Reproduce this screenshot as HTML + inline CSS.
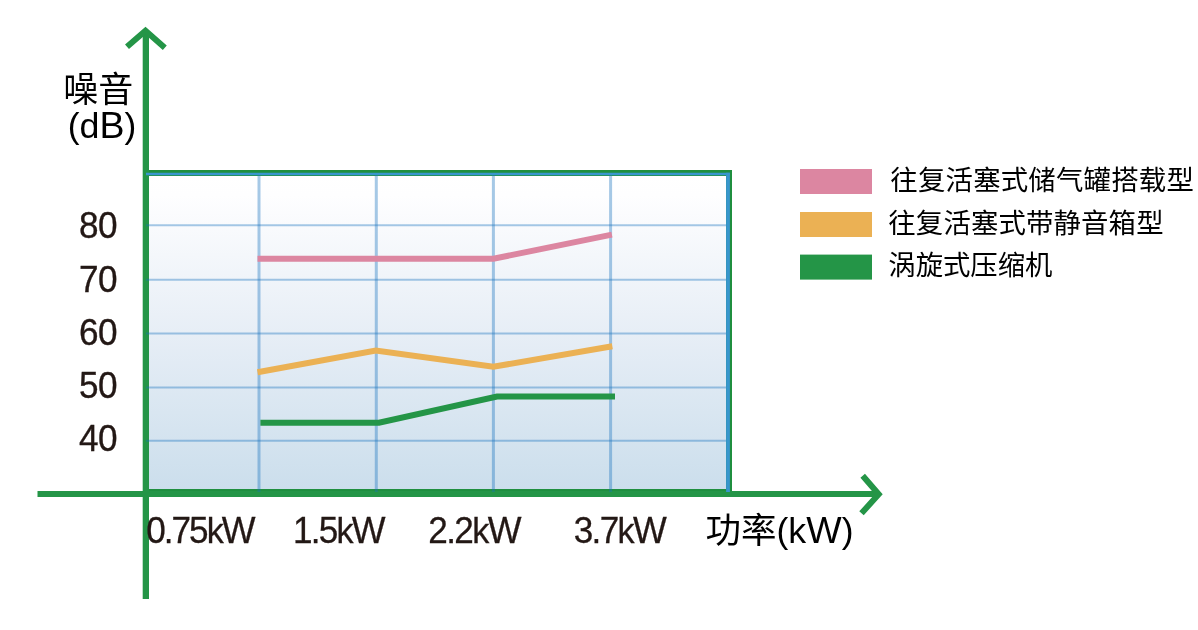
<!DOCTYPE html>
<html lang="zh-CN">
<head>
<meta charset="utf-8">
<title>噪音 / 功率</title>
<style>
  html, body { margin: 0; padding: 0; background: #ffffff; }
  body { width: 1198px; height: 630px; overflow: hidden; position: relative; }
  svg { position: absolute; left: 0; top: 0; display: block; }
  text { font-family: "Liberation Sans", "Noto Sans CJK SC", sans-serif; }
  .num { font-size: 36.8px; fill: #231815; letter-spacing: -2.1px; stroke: #231815; stroke-width: 0.3px; }
  .ynum { font-size: 36.8px; fill: #231815; letter-spacing: -0.7px; stroke: #231815; stroke-width: 0.35px; }
  .k { font-size: 35.8px; }
  .W { font-size: 37.5px; }
  .p { font-size: 35.4px; }
  .lab { font-size: 34px; fill: #000000; }
  .leg { font-size: 27.4px; fill: #000000; }
</style>
</head>
<body>
<svg width="1198" height="630" viewBox="0 0 1198 630">
  <defs>
    <linearGradient id="bg" x1="0" y1="0" x2="0" y2="1">
      <stop offset="0" stop-color="#ffffff"/>
      <stop offset="0.07" stop-color="#fefeff"/>
      <stop offset="0.5" stop-color="#e7eef6"/>
      <stop offset="1" stop-color="#cbdeec"/>
    </linearGradient>
  </defs>

  <!-- plot background -->
  <rect x="146" y="173" width="583" height="319" fill="url(#bg)"/>

  <!-- box frame (green) -->
  <path d="M146 173 H729 V492 H146" fill="none" stroke="#1f8f3f" stroke-width="6" stroke-linejoin="miter"/>
  <!-- axes -->
  <g fill="none" stroke="#249547" stroke-width="6">
    <line x1="145.85" y1="30" x2="145.85" y2="599" stroke-width="6.3"/>
    <line x1="37.5" y1="494" x2="879" y2="494"/>
    <polyline points="127,46.8 145.5,30.8 164.8,47.7" stroke-linejoin="miter"/>
    <polyline points="862.7,475.7 878.7,494.2 861.5,513.3" stroke-linejoin="miter"/>
  </g>

  <!-- grid -->
  <g stroke="#1470be" stroke-opacity="0.38" fill="none">
    <g stroke-width="2">
      <line x1="146" y1="225.2" x2="729" y2="225.2"/>
      <line x1="146" y1="279.8" x2="729" y2="279.8"/>
      <line x1="146" y1="333.4" x2="729" y2="333.4"/>
      <line x1="146" y1="387.5" x2="729" y2="387.5"/>
      <line x1="146" y1="440.8" x2="729" y2="440.8"/>
    </g>
    <g stroke-width="3">
      <line x1="259" y1="173" x2="259" y2="492"/>
      <line x1="376.3" y1="173" x2="376.3" y2="492"/>
      <line x1="493.4" y1="173" x2="493.4" y2="492"/>
      <line x1="610.6" y1="173" x2="610.6" y2="492"/>
    </g>
  </g>

  <!-- blue inner frame lines -->
  <line x1="146" y1="174" x2="730" y2="174" stroke="#3896cd" stroke-width="2.4"/>
  <line x1="728" y1="172.8" x2="728" y2="492" stroke="#3896cd" stroke-width="3.8"/>

  <!-- data lines -->
  <g fill="none" stroke-width="6" stroke-linejoin="miter">
    <polyline points="257.5,258.7 376.3,258.7 493.4,258.7 611.9,234.6" stroke="#dc86a1"/>
    <polyline points="257.5,372.2 375.8,350.6 493.3,366.8 612.3,346.2" stroke="#ebb154"/>
    <polyline points="260.4,422.7 379,422.7 497,396.6 615,396.6" stroke="#249547"/>
  </g>

  <!-- y axis title -->
  <text class="lab" x="63.3" y="101.5" style="font-size:35px">噪音</text>
  <text class="lab" x="67.8" y="138"><tspan class="p">(</tspan><tspan class="k">d</tspan><tspan class="W">B</tspan><tspan class="p">)</tspan></text>

  <!-- y ticks -->
  <g class="ynum">
    <text transform="translate(79.1,238) scale(0.955,1)">80</text>
    <text transform="translate(79.1,292) scale(0.955,1)">70</text>
    <text transform="translate(79.1,345) scale(0.955,1)">60</text>
    <text transform="translate(79.1,398.2) scale(0.955,1)">50</text>
    <text transform="translate(79.1,451.2) scale(0.955,1)">40</text>
  </g>

  <!-- x ticks -->
  <g class="num">
    <text transform="translate(146.3,543.1) scale(0.955,1)">0.75<tspan class="k">k</tspan><tspan class="W">W</tspan></text>
    <text transform="translate(293,543.1) scale(0.955,1)" style="letter-spacing:-1.9px">1.5<tspan class="k">k</tspan><tspan class="W">W</tspan></text>
    <text transform="translate(428.3,543.1) scale(0.955,1)" style="letter-spacing:-1.7px">2.2<tspan class="k">k</tspan><tspan class="W">W</tspan></text>
    <text transform="translate(573.8,543.1) scale(0.955,1)" style="letter-spacing:-1.8px">3.7<tspan class="k">k</tspan><tspan class="W">W</tspan></text>
  </g>
  <text class="lab" x="705.5" y="543.1" style="font-size:35.5px">功率<tspan class="p">(</tspan><tspan class="k">k</tspan><tspan class="W">W</tspan><tspan class="p">)</tspan></text>

  <!-- legend -->
  <rect x="800" y="169" width="72" height="25" fill="#dc86a1"/>
  <rect x="800" y="212" width="72" height="25" fill="#ebb154"/>
  <rect x="800" y="254.6" width="72" height="25" fill="#249547"/>
  <text class="leg" x="890.3" y="190.1" style="letter-spacing:0.22px">往复活塞式储气罐搭载型</text>
  <text class="leg" x="888.3" y="232.9" style="letter-spacing:0.15px">往复活塞式带静音箱型</text>
  <text class="leg" x="888.3" y="274.5" style="letter-spacing:-0.05px">涡旋式压缩机</text>
</svg>
</body>
</html>
